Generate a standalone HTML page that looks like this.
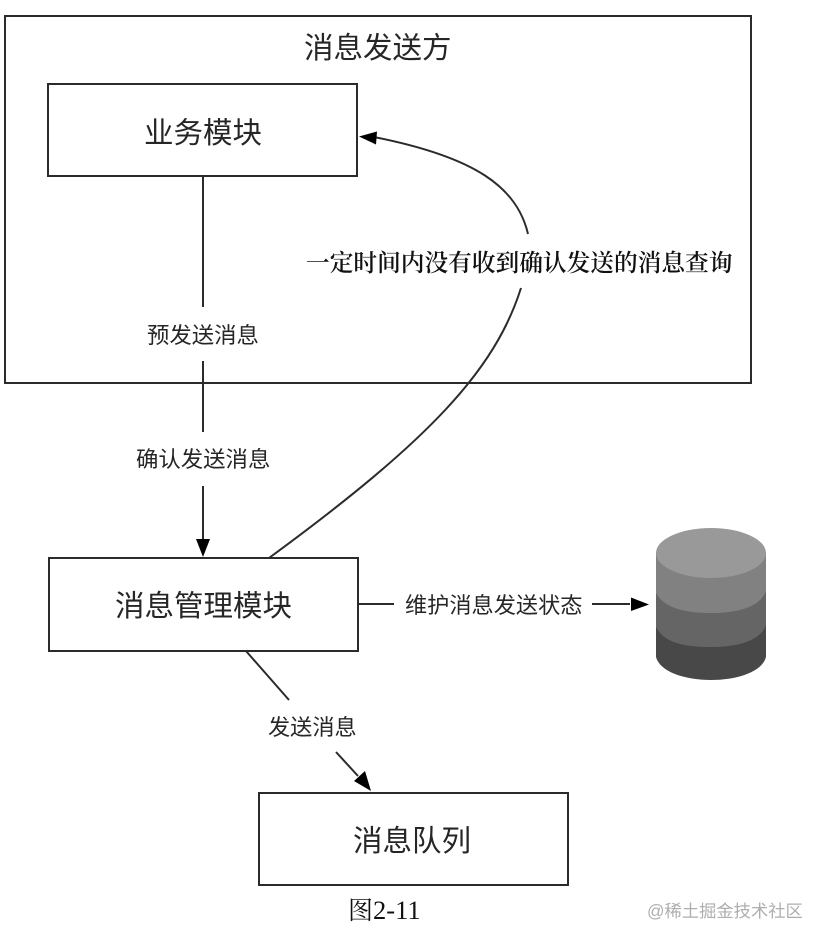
<!DOCTYPE html>
<html lang="zh">
<head>
<meta charset="utf-8">
<style>
html,body{margin:0;padding:0;background:#fff}
svg{display:block;filter:blur(0.35px)}
text{font-family:"Liberation Sans","Noto Sans CJK SC",sans-serif;fill:#262626;dominant-baseline:alphabetic}
.s{font-family:"Liberation Serif","Noto Serif CJK SC",serif;fill:#111}
</style>
</head>
<body>
<svg width="828" height="946" viewBox="0 0 828 946" xmlns="http://www.w3.org/2000/svg">
<rect width="828" height="946" fill="#fff"/>
<g fill="none" stroke="#2b2b2b" stroke-width="2">
<rect x="5" y="16" width="746" height="367"/>
<rect x="48" y="84" width="309" height="92"/>
<rect x="49" y="558" width="309" height="93"/>
<rect x="259" y="793" width="309" height="92"/>
<path d="M203 177V307M203 361V432M203 486V542"/>
<path d="M358 604H394M592 604H630"/>
<path d="M246 651L289 700M336 752L358 776"/>
<path d="M528 234C517 187 475 157 374 137"/>
<path d="M521 288C495 370 430 440 269 558"/>
</g>
<g fill="#000">
<path d="M203 557L196 539H210Z"/>
<path d="M649 604.500L631 597.500V611Z"/>
<path d="M371 791L354 781L365 771Z"/>
<path d="M359 136.500L377 131.500L376 144.500Z"/>
</g>
<g>
<path d="M656 552V657C660 672 685 680 711 680C737 680 762 672 766 657V552Z" fill="#484848"/>
<path d="M656 552V627C665 645 690 647 711 647C735 647 760 642 766 625V552Z" fill="#656565"/>
<path d="M656 552V593C665 610 690 613 711 613C735 613 760 608 766 591V552Z" fill="#818181"/>
<ellipse cx="711" cy="553" rx="55" ry="25" fill="#999"/>
</g>
<text x="304" y="58" font-size="29.5">消息发送方</text>
<text x="144" y="143" font-size="29.5">业务模块</text>
<text x="115" y="616" font-size="29.5">消息管理模块</text>
<text x="353" y="851" font-size="29.5">消息队列</text>
<text x="147" y="343" font-size="22.4">预发送消息</text>
<text x="136" y="467" font-size="22.4">确认发送消息</text>
<text x="405" y="613" font-size="22.2">维护消息发送状态</text>
<text x="268" y="735" font-size="22.2">发送消息</text>
<text class="s" x="306" y="271" font-size="23.7" font-weight="600">一定时间内没有收到确认发送的消息查询</text>
<text class="s" x="348" y="919" font-size="25">图<tspan font-size="26.5">2-11</tspan></text>
<text x="647" y="917" font-size="17.3" style="fill:#aeaeae">@稀土掘金技术社区</text>
</svg>
</body>
</html>
